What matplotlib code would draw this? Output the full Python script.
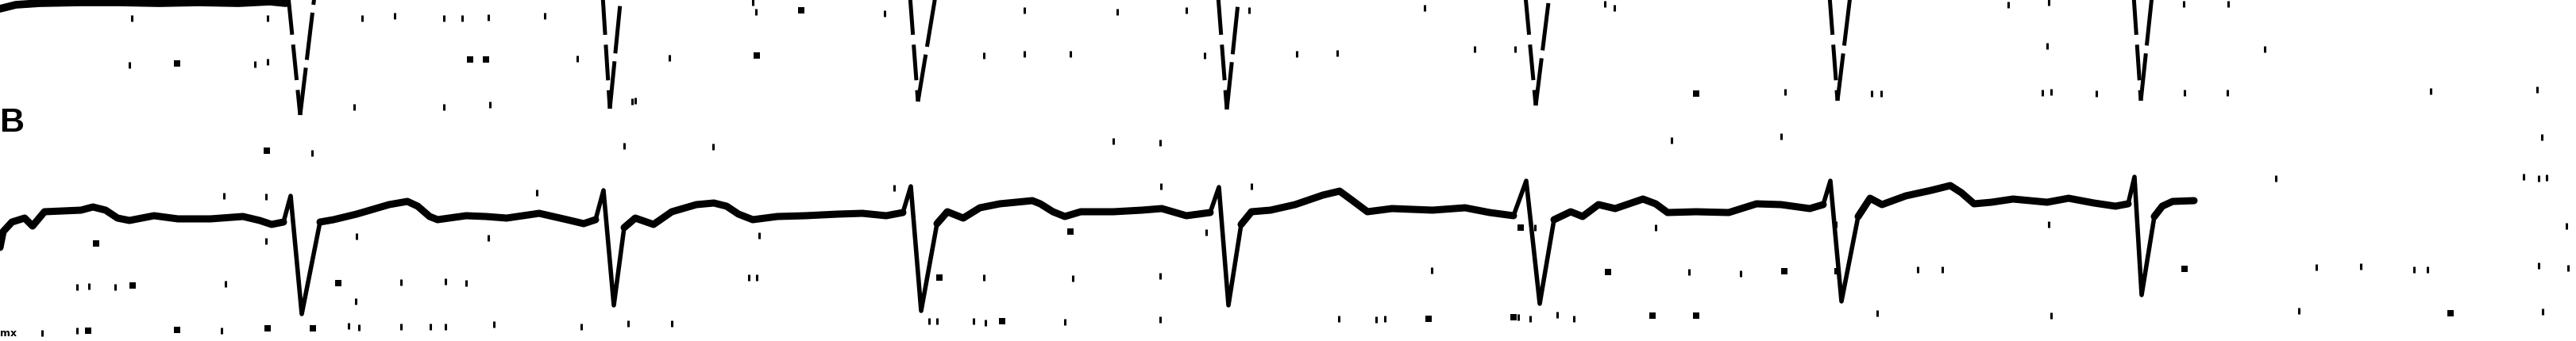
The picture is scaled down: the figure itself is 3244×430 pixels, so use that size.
import matplotlib
matplotlib.use("Agg")
import matplotlib.pyplot as plt
import numpy as np

# ---- lead B (lower strip), waves between the beats, image pixel units ----
wave_x = [
    [0, 4, 15, 31, 41, 56, 102, 117, 133, 148, 163, 194, 224, 265, 306, 327, 342, 357],
    [403, 420, 449, 490, 513, 526, 541, 551, 587, 612, 638, 679, 714, 735, 750],
    [786, 800, 823, 846, 877, 899, 915, 930, 948, 979, 1014, 1055, 1086, 1116, 1137],
    [1180, 1193, 1213, 1234, 1259, 1300, 1310, 1326, 1341, 1361, 1402, 1438, 1463, 1494, 1524],
    [1563, 1576, 1600, 1631, 1666, 1687, 1702, 1722, 1753, 1804, 1845, 1876, 1906],
    [1957, 1978, 1993, 2013, 2034, 2069, 2085, 2100, 2136, 2177, 2212, 2243, 2279, 2296],
    [2340, 2355, 2370, 2400, 2432, 2456, 2470, 2486, 2508, 2535, 2578, 2605, 2637, 2664, 2680],
    [2713, 2723, 2736, 2763],
]
wave_y = [
    [312, 292, 280, 275, 285, 267, 265, 261, 265, 275, 278, 272, 276, 276, 273, 278, 283, 280],
    [280, 277, 270, 258, 254, 260, 273, 277, 272, 273, 275, 269, 277, 282, 277],
    [287, 275, 283, 267, 258, 256, 260, 270, 277, 273, 272, 270, 269, 272, 268],
    [282, 267, 275, 262, 257, 253, 257, 267, 273, 267, 267, 265, 263, 272, 268],
    [283, 267, 265, 258, 246, 241, 252, 267, 263, 265, 262, 268, 272],
    [277, 267, 273, 258, 263, 251, 257, 268, 267, 268, 257, 258, 263, 258],
    [273, 250, 258, 247, 240, 234, 243, 257, 255, 251, 255, 250, 256, 260, 257],
    [273, 260, 254, 253],
]
# QRS of lead B: R peak and S nadir
b_r_x = [366, 760, 1147, 1535, 1922, 2305, 2688]
b_r_y = [247, 240, 235, 236, 228, 228, 223]
b_s_x = [380, 773, 1160, 1547, 1939, 2319, 2697]
b_s_y = [396, 385, 392, 385, 383, 380, 372]

# ---- upper strip: baseline mostly above the frame, only the S dips show ----
top_base_x = [0, 20, 50, 100, 150, 200, 250, 300, 340, 360]
top_base_y = [11, 6, 4, 3, 3, 4, 3, 4, 2, 4]
top_l_x = [363, 759, 1146, 1534, 1921, 2304, 2687]
top_b_x = [378, 768, 1156, 1545, 1934, 2314, 2696]
top_b_y = [145, 137, 128, 138, 133, 127, 127]
top_r_x = [396, 782, 1178, 1560, 1951, 2330, 2710]

# ---- specks left from the grid of the scanned paper ----
speck_x = [166, 337, 456, 497, 559, 582, 615, 686, 163, 223, 321, 337, 592, 612, 727,
           446, 559, 617, 796, 336, 393, 786, 282, 335, 676, 121, 335, 449, 615, 765,
           97, 112, 145, 167, 284, 426, 505, 561, 587, 448, 53, 97, 111, 223, 279, 337,
           394, 439, 452, 505, 542, 561, 622, 732, 791,
           948, 952, 1009, 1114, 1290, 1407, 1494, 1573, 843, 953, 1239, 1290, 1348, 1517,
           800, 898, 1402, 1461, 1126, 1462, 1576, 956, 1348, 1519, 943, 953, 1183, 1239,
           1351, 1461, 846, 1170, 1180, 1226, 1241, 1262, 1341, 1461,
           1794, 2021, 2033, 1633, 1684, 1857, 1908, 2136, 2248, 2357, 2369, 2105, 2243,
           2085, 1915, 1933, 2312, 1803, 2025, 2127, 2192, 2247, 2314, 1686, 1733, 1744,
           1799, 1906, 1912, 1927, 1961, 1982, 2081, 2136, 2364,
           2529, 2580, 2750, 2806, 2578, 2852, 2572, 2583, 2640, 2751, 2805, 3061, 3195,
           3201, 2866, 3178, 3197, 3207, 2580, 3232, 2415, 2446, 2751, 2917, 2973, 3040,
           3057, 3197, 3234, 2583, 2895, 3086, 3202]
speck_y = [23, 23, 23, 20, 23, 23, 22, 20, 82, 80, 81, 78, 75, 75, 74,
           135, 135, 132, 128, 190, 193, 184, 247, 248, 243, 307, 304, 298, 300, 298,
           362, 361, 362, 360, 358, 357, 356, 355, 357, 380, 420, 417, 417, 416, 417, 414,
           414, 411, 413, 412, 412, 412, 409, 412, 408,
           3, 15, 13, 17, 13, 15, 13, 13, 73, 70, 70, 68, 68, 70,
           127, 185, 178, 180, 237, 235, 235, 297, 292, 293, 350, 350, 350, 350,
           351, 348, 408, 405, 405, 405, 407, 405, 406, 403,
           10, 5, 10, 68, 67, 62, 62, 118, 116, 118, 118, 177, 172,
           287, 287, 287, 283, 341, 343, 343, 345, 342, 342, 402, 403, 402,
           402, 400, 400, 402, 397, 402, 398, 398, 395,
           6, 3, 5, 5, 58, 62, 117, 116, 118, 117, 117, 115, 113,
           173, 225, 223, 225, 224, 283, 285, 340, 340, 339, 337, 336, 340,
           340, 335, 338, 398, 392, 395, 393]
speck_big = [0, 0, 0, 0, 0, 0, 0, 0, 0, 1, 0, 0, 1, 1, 0,
             0, 0, 0, 0, 1, 0, 0, 0, 0, 0, 1, 0, 0, 0, 0,
             0, 0, 0, 1, 0, 1, 0, 0, 0, 0, 0, 0, 1, 1, 0, 1,
             1, 0, 0, 0, 0, 0, 0, 0, 0,
             0, 0, 1, 0, 0, 0, 0, 0, 0, 1, 0, 0, 0, 0,
             0, 0, 0, 0, 0, 0, 0, 0, 1, 0, 0, 0, 1, 0,
             0, 0, 0, 0, 0, 0, 0, 1, 0, 0,
             0, 0, 0, 0, 0, 0, 0, 1, 0, 0, 0, 0, 0,
             0, 1, 0, 0, 0, 1, 0, 0, 1, 1, 0, 0, 0,
             1, 1, 0, 0, 0, 0, 1, 1, 0,
             0, 0, 0, 0, 0, 0, 0, 0, 0, 0, 0, 0, 0,
             0, 0, 0, 0, 0, 0, 0, 0, 0, 1, 0, 0, 0,
             0, 0, 0, 0, 0, 1, 0]

fig = plt.figure(figsize=(32.44, 4.30), dpi=100)
ax = fig.add_axes([0, 0, 1, 1])
ax.set_xlim(0, 3244)
ax.set_ylim(430, 0)
ax.axis('off')

# specks
sx = np.array(speck_x)
sy = np.array(speck_y)
big = np.array(speck_big) == 1
ax.plot(sx[~big], sy[~big], ls='none', marker='|', ms=6, mew=2.2, color='black')
ax.plot(sx[big], sy[big], ls='none', marker='s', ms=5.5, mew=0, color='black')

# upper strip
ax.plot(top_base_x, top_base_y, color='black', lw=7, solid_capstyle='round')
for lx, bx, by, rx in zip(top_l_x, top_b_x, top_b_y, top_r_x):
    ax.plot([lx, bx], [-5, by], color='black', lw=3.6, dashes=(9, 2.5))
    ax.plot([bx, rx], [by, -5], color='black', lw=3.6, dashes=(12, 2))

# lower strip waves
for xs, ys in zip(wave_x, wave_y):
    ax.plot(xs, ys, color='black', lw=6.5, solid_capstyle='round', solid_joinstyle='round')

# lower strip QRS
for i in range(len(b_r_x)):
    x0, y0 = wave_x[i][-1], wave_y[i][-1]
    x1, y1 = wave_x[i + 1][0], wave_y[i + 1][0]
    ax.plot([x0, b_r_x[i], b_s_x[i], x1], [y0, b_r_y[i], b_s_y[i], y1],
            color='black', lw=4, solid_joinstyle='round')

ax.text(-1, 155, 'B', fontsize=31, fontweight='black', family='Liberation Sans',
        ha='left', va='center', color='black')
ax.text(0, 421, 'mx', fontsize=9, fontweight='black', ha='left', va='center', color='black')

fig.savefig('out.png', dpi=100, facecolor='white')
